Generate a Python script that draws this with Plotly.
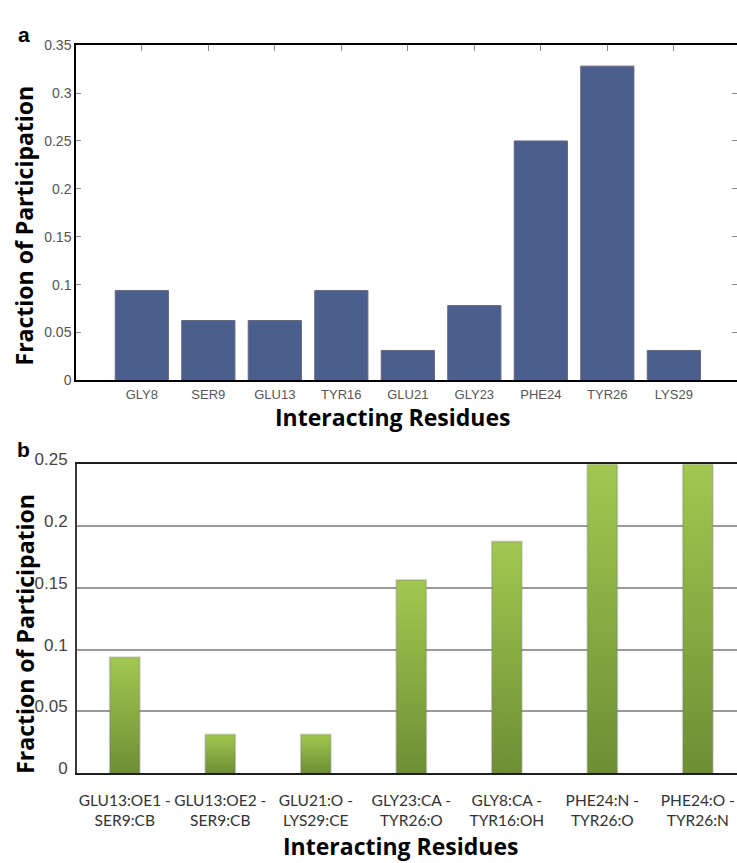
import plotly.graph_objects as go

# Panel a: fraction of participation per interacting residue
residues = ["GLY8", "SER9", "GLU13", "TYR16", "GLU21", "GLY23", "PHE24", "TYR26", "LYS29"]
residue_fraction = [0.09375, 0.0625, 0.0625, 0.09375, 0.03125, 0.078125, 0.25, 0.328125, 0.03125]
a_ticks = [0, 0.05, 0.1, 0.15, 0.2, 0.25, 0.3, 0.35]
a_ticktext = ["0", "0.05", "0.1", "0.15", "0.2", "0.25", "0.3", "0.35"]

# Panel b: fraction of participation per atom-atom contact
atom_pairs = [
    "GLU13:OE1 -<br>SER9:CB",
    "GLU13:OE2 -<br>SER9:CB",
    "GLU21:O -<br>LYS29:CE",
    "GLY23:CA -<br>TYR26:O",
    "GLY8:CA -<br>TYR16:OH",
    "PHE24:N -<br>TYR26:O",
    "PHE24:O -<br>TYR26:N",
]
pair_fraction = [0.09375, 0.03125, 0.03125, 0.15625, 0.1875, 0.25, 0.25]
b_ticks = [0, 0.05, 0.1, 0.15, 0.2, 0.25]
b_ticktext = ["0", "0.05", "0.1", "0.15", "0.2", "0.25"]

W, H = 737, 863


def px(x):
    return x / W


def py(y):
    return 1 - y / H


fig = go.Figure()

# navy bars of panel a
fig.add_trace(go.Bar(
    x=list(range(len(residues))), y=residue_fraction, width=0.8,
    marker=dict(color="#4b5f8e", line=dict(color="#66667a", width=1)),
    xaxis="x", yaxis="y", showlegend=False,
    hovertext=residues, hoverinfo="text+y",
))
# empty trace that carries the mirrored tick axes of panel a
fig.add_trace(go.Scatter(x=[], y=[], xaxis="x3", yaxis="y3", showlegend=False, hoverinfo="skip"))

# green gradient bars of panel b (one filled outline per contact)
bw = 0.314
for i, v in enumerate(pair_fraction):
    fig.add_trace(go.Scatter(
        x=[i - bw / 2, i + bw / 2, i + bw / 2, i - bw / 2, i - bw / 2],
        y=[0, 0, v, v, 0],
        mode="lines", fill="toself",
        line=dict(color="rgba(120,120,120,0.28)", width=2),
        fillgradient=dict(type="vertical", colorscale=[[0, "#6e8e34"], [1, "#a2c850"]]),
        xaxis="x2", yaxis="y2", showlegend=False,
        hoverinfo="text", text=atom_pairs[i].replace("<br>", " ") + f": {v}",
    ))

axis_font_a = dict(family="Liberation Sans, Arial, sans-serif", size=13, color="#555555")

fig.update_layout(
    width=W, height=H, autosize=False,
    margin=dict(l=0, r=0, t=0, b=0),
    paper_bgcolor="white", plot_bgcolor="white",
    xaxis=dict(
        domain=[px(76), 1], anchor="y",
        range=[-0.99, 8.95],
        tickmode="array", tickvals=list(range(len(residues))), ticktext=residues,
        tickfont=axis_font_a, ticks="", ticklabelstandoff=1, tickangle=0,
        showline=True, linecolor="black", linewidth=1.5, mirror=True,
        showgrid=False, zeroline=False,
    ),
    yaxis=dict(
        domain=[py(376), py(32)], anchor="x",
        range=[0, 0.35],
        tickmode="array", tickvals=a_ticks, ticktext=a_ticktext,
        tickfont=dict(family="Liberation Sans, Arial, sans-serif", size=14, color="#555555"),
        ticks="inside", ticklen=5, tickcolor="#888888", tickwidth=1,
        showline=True, linecolor="black", linewidth=1.5,
        showgrid=False, zeroline=False,
    ),
    xaxis3=dict(
        overlaying="x", side="top", anchor="y3",
        range=[-0.99, 8.95],
        tickmode="array", tickvals=list(range(len(residues))),
        ticks="inside", ticklen=6, tickcolor="#888888", tickwidth=1,
        showticklabels=False, showline=False, showgrid=False, zeroline=False,
    ),
    yaxis3=dict(
        overlaying="y", side="right", anchor="x3",
        range=[0, 0.35],
        tickmode="array", tickvals=a_ticks,
        ticks="inside", ticklen=5, tickcolor="#888888", tickwidth=1,
        showticklabels=False, showline=False, showgrid=False, zeroline=False,
    ),
    xaxis2=dict(
        domain=[px(77), 1], anchor="y2",
        range=[-0.5, 6.41],
        tickmode="array", tickvals=list(range(len(atom_pairs))), ticktext=atom_pairs,
        tickfont=dict(family="Lato, sans-serif", size=15.5, color="#333333"),
        ticks="", ticklabelstandoff=12, tickangle=0, ticklabeloverflow="allow",
        showline=True, linecolor="#1e1e1e", linewidth=2, mirror=True,
        showgrid=False, zeroline=False,
    ),
    yaxis2=dict(
        domain=[py(779), py(462)], anchor="x2",
        range=[0, 0.25],
        tickmode="array", tickvals=b_ticks, ticktext=b_ticktext,
        tickfont=dict(family="Liberation Sans, Arial, sans-serif", size=17, color="#444444"),
        ticks="", ticklabelstandoff=4, ticklabelshift=-5,
        showline=True, linecolor="#3a3a3a", linewidth=2,
        showgrid=True, gridcolor="#9a9a9a", gridwidth=1.5,
        zeroline=False,
    ),
)

title_font = dict(family="Open Sans, sans-serif", size=23, color="black", weight="bold")
panel_font = dict(family="Liberation Sans, Arial, sans-serif", size=21, color="black", weight="bold")

annotations = [
    dict(text="a", x=px(24), y=py(21), font=panel_font),
    dict(text="b", x=px(24), y=py(447), font=panel_font),
    dict(text="Fraction of Participation", x=px(24), y=py(217), textangle=-90, font=title_font),
    dict(text="Interacting Residues", x=px(392), y=py(414), font=title_font),
    dict(text="Fraction of Participation", x=px(25), y=py(636), textangle=-90, font=title_font),
    dict(text="Interacting Residues", x=px(400), y=py(854), font=title_font),
]
for ann in annotations:
    fig.add_annotation(xref="paper", yref="paper", xanchor="center", yanchor="middle",
                       showarrow=False, borderpad=0, **ann)

fig.write_html("out.html")
